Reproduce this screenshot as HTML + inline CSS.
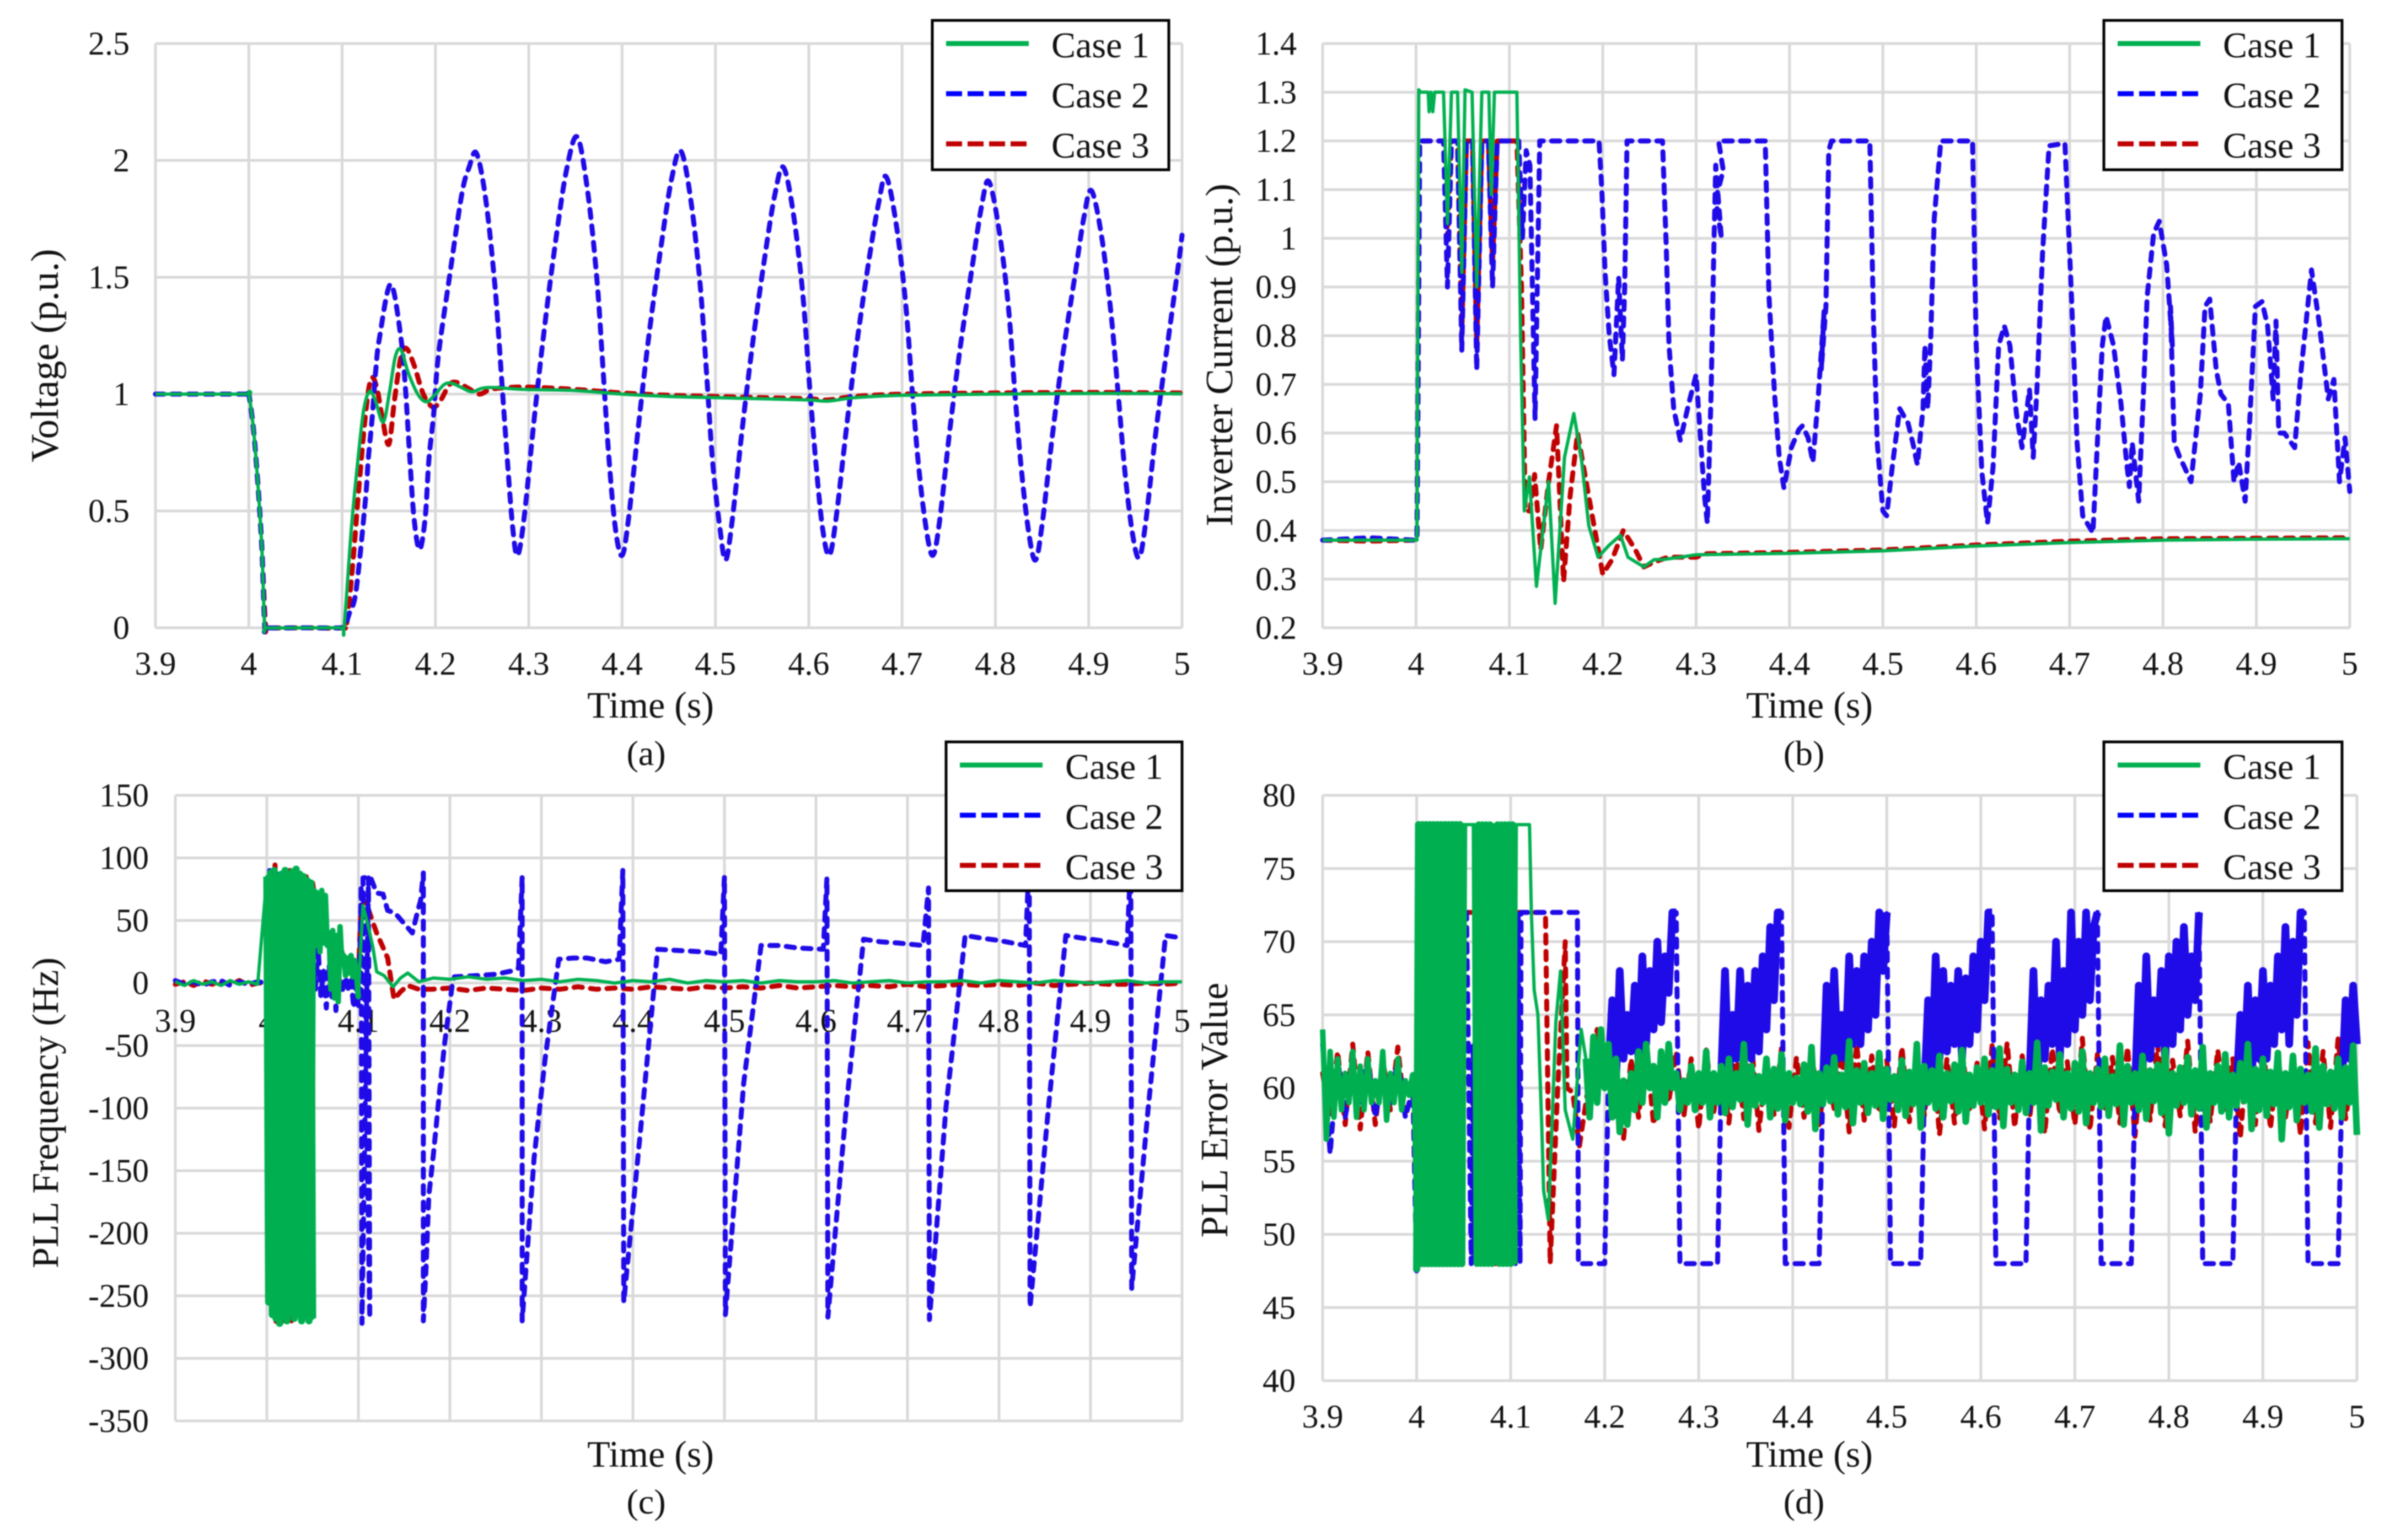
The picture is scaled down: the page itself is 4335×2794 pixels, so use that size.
<!DOCTYPE html>
<html lang="en">
<head>
<meta charset="utf-8">
<title>Voltage, inverter current, PLL frequency and PLL error for three cases</title>
<style>
html,body{margin:0;padding:0;background:#fff;}
#figure{display:block;width:4335px;height:2794px;filter:blur(1px);font-family:"Liberation Serif",serif;fill:#111;}
</style>
</head>
<body>
<svg id="figure" xmlns="http://www.w3.org/2000/svg" width="4335" height="2794" viewBox="0 0 4335 2794"></svg>
<script>
/* ---------- shared axis data ---------- */
const timeTicks = [3.9, 4, 4.1, 4.2, 4.3, 4.4, 4.5, 4.6, 4.7, 4.8, 4.9, 5];
const voltageTicks = [0, 0.5, 1, 1.5, 2, 2.5];
const currentTicks = [0.2, 0.3, 0.4, 0.5, 0.6, 0.7, 0.8, 0.9, 1, 1.1, 1.2, 1.3, 1.4];
const frequencyTicks = [-350, -300, -250, -200, -150, -100, -50, 0, 50, 100, 150];
const errorTicks = [40, 45, 50, 55, 60, 65, 70, 75, 80];
const caseNames = ["Case 1", "Case 2", "Case 3"];

/* sample clock for segments logged at a fixed time step */
function sampleTimes(start, step, count) {
  const out = [];
  for (let i = 0; i < count; i++) out.push(+(start + i * step).toFixed(4));
  return out;
}

/* ---------- (a) voltage ---------- */
const voltageCase1Times = [3.9,3.95,3.998,4,4.005,4.01,4.014,4.017,4.02,4.06,4.098,4.102,4.11,4.117,4.123,4.129,4.135,4.144,4.151,4.157,4.163,4.171,4.181,4.19,4.199,4.209,4.217,4.227,4.239,4.25,4.264,4.295,4.35,4.4,4.45,4.5,4.55,4.6,4.62,4.65,4.7,4.8,4.9,5];
const voltageCase1Values = [1,1,1,1,.85,.6,.34,.01,0,0,0,0,.43,.72,.93,1.01,.98,.88,1.015,1.16,1.19,1.09,1,.967,.995,1.04,1.047,1.03,1.01,1.025,1.028,1.02,1.015,1,.99,.985,.98,.975,.97,.985,.995,1,1.003,1.002];
const voltageCase3Times = [3.9,3.95,3.998,4,4.005,4.01,4.014,4.018,4.022,4.06,4.1,4.105,4.112,4.117,4.125,4.131,4.137,4.143,4.15,4.156,4.163,4.169,4.177,4.187,4.197,4.205,4.215,4.223,4.235,4.247,4.259,4.277,4.3,4.35,4.4,4.45,4.5,4.55,4.6,4.62,4.65,4.7,4.8,4.9,5];
const voltageCase3Values = [1,1,1,1,.85,.6,.34,.01,0,0,0,.02,.3,.55,.91,1.065,1.03,.9,.785,.97,1.16,1.195,1.125,1,.945,.97,1.04,1.05,1.025,1,1.02,1.028,1.03,1.02,1.005,.995,.99,.985,.98,.975,.99,1,1.005,1.007,1.005];
const voltageCase2Times = [3.9,3.95,3.998,4,4.005,4.01,4.014,4.017,4.02,4.06,4.098,4.103,4.108,4.115,4.125,4.128,4.132,4.136,4.14,4.152,4.163,4.168,4.172,4.177,4.183,4.189,4.193,4.198,4.203,
4.215,4.228,4.236,4.244,4.254,4.264,4.271,4.277,4.283,4.288,
4.295,4.306,4.317,4.33,4.341,4.352,4.363,4.373,4.38,4.386,4.393,4.4,
4.407,4.418,4.429,4.442,4.453,4.463,4.474,4.484,4.491,4.497,4.505,4.511,
4.518,4.529,4.54,4.553,4.564,4.573,4.584,4.594,4.601,4.608,4.615,4.622,
4.629,4.64,4.651,4.664,4.675,4.683,4.694,4.704,4.711,4.718,4.726,4.733,
4.74,4.751,4.762,4.775,4.785,4.793,4.804,4.814,4.821,4.828,4.836,4.843,
4.85,4.861,4.872,4.885,4.895,4.903,4.914,4.924,4.932,4.939,4.947,4.954,
4.961,4.972,4.983,4.996,5];
const voltageCase2Values = [1,1,1,1,.85,.6,.34,.01,0,0,0,.01,.065,.16,.55,.72,.89,1.1,1.24,1.47,1.24,1.015,.76,.47,.335,.47,.72,.91,1.16,
1.5,1.85,1.97,2.03,1.83,1.45,1.06,.72,.42,.31,
.47,.9,1.29,1.69,1.97,2.1,1.87,1.49,1.08,.72,.42,.31,
.47,.88,1.26,1.64,1.92,2.04,1.82,1.45,1.06,.71,.42,.29,
.46,.86,1.22,1.59,1.86,1.97,1.76,1.41,1.03,.69,.42,.31,
.46,.84,1.2,1.56,1.82,1.93,1.72,1.38,1.01,.68,.42,.31,
.45,.84,1.19,1.54,1.8,1.91,1.7,1.37,1,.67,.4,.29,
.44,.82,1.16,1.5,1.76,1.87,1.67,1.34,.98,.66,.4,.3,
.45,.84,1.17,1.55,1.68];

/* ---------- (b) inverter current ---------- */
const currentCase1Times = [3.9,3.95,3.999,4.001,4.003,4.005,4.013,4.014,4.016,4.018,4.02,4.0295,4.0337,4.038,4.0445,4.049,4.0525,4.06,4.065,4.0705,4.078,4.0807,4.084,4.108,4.112,4.116,4.1215,4.129,4.142,4.149,4.159,4.169,4.177,4.185,4.195,4.207,4.219,4.227,4.244,4.255,4.264,4.283,4.3,4.4,4.5,4.6,4.7,4.8,4.9,5];
const currentCase1Values = [.38,.38,.38,.38,1.305,1.3,1.3,1.26,1.3,1.26,1.3,1.3,1.03,1.3,1.3,.93,1.305,1.3,.9,1.3,1.3,1.09,1.3,1.3,.8,.44,.51,.285,.5,.25,.55,.64,.55,.41,.345,.37,.39,.345,.325,.34,.34,.345,.35,.353,.358,.368,.375,.38,.382,.383];
const currentCase3Times = [3.9,3.95,3.999,4.001,4.004,4.0295,4.0337,4.038,4.0445,4.049,4.054,4.0605,4.065,4.0705,4.0775,4.082,4.087,4.108,4.113,4.117,4.122,4.127,4.1335,4.142,4.1505,4.158,4.165,4.173,4.185,4.2,4.21,4.222,4.235,4.244,4.255,4.27,4.3,4.31,4.4,4.5,4.6,4.7,4.8,4.9,5];
const currentCase3Values = [.38,.378,.38,.38,1.2,1.2,1,1.2,1.2,.8,1.2,1.2,.78,1.2,1.2,.95,1.2,1.2,.9,.44,.44,.515,.36,.5,.615,.295,.47,.6,.47,.31,.34,.4,.36,.325,.335,.345,.345,.352,.355,.36,.37,.378,.383,.384,.385];
const currentCase2Times = [3.9,3.95,3.999,4.001,4.004,4.0295,4.0337,4.038,4.0445,4.049,4.054,4.0605,4.065,4.0705,4.0775,4.082,4.087,4.095,4.11,4.114,4.118,4.122,4.1275,4.1325,4.196,4.199,4.2025,4.207,4.212,4.217,4.221,4.2235,4.226,4.264,4.268,4.271,4.276,4.283,4.292,4.3,4.305,4.309,4.312,4.316,4.319,4.321,4.327,4.321,4.329,4.324,4.374,4.378,4.384,4.389,4.394,4.402,4.41,4.414,4.42,4.425,4.431,4.437,4.434,4.439,4.442,4.445,4.486,4.49,4.494,4.5,4.504,4.51,4.518,4.527,4.532,4.537,4.543,4.545,4.548,4.551,4.555,4.562,4.596,4.6,4.606,4.612,4.618,4.624,4.63,4.636,4.643,4.649,4.657,4.661,4.665,4.671,4.678,4.695,4.702,4.708,4.714,4.725,4.731,4.735,4.739,4.747,4.755,4.761,4.764,4.767,4.774,4.779,4.783,4.79,4.796,4.804,4.81,4.808,4.812,4.818,4.823,4.83,4.84,4.845,4.85,4.857,4.862,4.87,4.876,4.881,4.888,4.893,4.899,4.906,4.912,4.918,4.921,4.924,4.93,4.941,4.948,4.959,4.967,4.977,4.983,4.989,4.995,5];
const currentCase2Values = [.38,.385,.38,.38,1.2,1.2,.9,1.2,1.2,.77,1.2,1.2,.73,1.2,1.2,.9,1.2,1.2,1.2,1,1.18,1.15,.63,1.2,1.2,1.1,.93,.8,.72,.92,.75,.9,1.2,1.2,.98,.78,.65,.585,.66,.72,.58,.47,.415,.68,.98,1.15,1,1.08,1.14,1.2,1.2,.88,.68,.55,.487,.57,.607,.615,.59,.54,.68,.85,.73,.86,1.18,1.2,1.2,.83,.58,.44,.43,.53,.65,.62,.58,.535,.65,.78,.65,.78,1.04,1.2,1.2,.78,.52,.415,.53,.78,.82,.78,.64,.57,.69,.55,.69,.97,1.19,1.195,.88,.58,.43,.395,.63,.78,.84,.78,.66,.54,.49,.58,.46,.68,.88,1.01,1.035,.945,.78,.86,.58,.55,.53,.5,.68,.86,.875,.73,.68,.66,.5,.54,.46,.63,.86,.87,.82,.67,.83,.6,.6,.57,.73,.935,.83,.67,.71,.5,.59,.48];

/* ---------- (c) PLL frequency ---------- */
const frequencyPreFaultTimes = sampleTimes(3.9, .01, 10);
const frequencyCase1PreFault = [1,-2,2,-1,1,-2,2,-1,1,-1];
const frequencyCase1BlockTimes = sampleTimes(4.0, .002, 26);
const frequencyCase1Block = [85,-255,88,-265,90,-268,84,-272,87,-266,90,-270,86,-262,89,-268,91,-264,87,-270,85,-266,82,-270,80,-268];
const frequencyCase1RaggedTimes = sampleTimes(4.052, .002, 25);
const frequencyCase1Ragged = [75,30,72,25,74,32,70,30,40,-5,42,-12,38,-15,45,15,22,6,20,8,22,5,18,7,-12];
const frequencyCase1RecoveryTimes = [4.102,4.105,4.11,4.116,4.12,4.128,4.138,4.146,4.154,4.166,4.182];
const frequencyCase1Recovery = [20,62,48,28,9,6,-3,4,8,1,4];
const frequencyCase1TailTimes = sampleTimes(4.2, .02, 41);
const frequencyCase1Tail = [3,5,3,4,2,3,1,3,2,0,2,1,3,0,2,1,2,0,2,1,1,2,0,1,2,0,1,1,2,0,2,1,0,2,1,0,1,2,0,1,1];
const frequencyCase3PreFault = [-1,1,-2,2,-1,1,-1,2,-2,0];
const frequencyCase3FaultTimes = [4.0,4.002,4.004,4.009,4.01,4.016,4.018,4.025,4.027,4.035,4.037,4.043,4.045,4.05,4.052,4.056,4.06,4.063,4.065,4.07,4.075,4.079,4.085,4.095,4.1,4.103,4.108,4.12,4.132,4.139,4.146,4.154,4.166];
const frequencyCase3Fault = [0,85,-255,97,-272,85,-272,90,-270,88,-268,85,-268,80,70,30,65,62,35,37,20,35,15,18,5,62,65,40,20,-13,-7,-2,-5];
const frequencyCase3TailTimes = sampleTimes(4.18, .02, 42);
const frequencyCase3Tail = [-5,-4,-6,-4,-5,-6,-4,-5,-3,-5,-4,-5,-3,-4,-5,-3,-4,-3,-4,-2,-4,-3,-2,-3,-2,-3,-1,-3,-2,-1,-2,-1,-2,0,-2,-1,0,-1,-1,0,-1,0];
const frequencyCase2PreFault = [2,-1,1,-2,1,2,-2,1,-1,1];
const frequencyCase2Times = [4.0,4.001,4.003,4.008,4.012,4.02,4.03,4.04,4.049,4.05,4.053,4.056,4.059,4.062,4.065,4.068,4.071,4.074,4.0755,4.078,4.082,4.086,4.089,4.092,4.095,4.097,4.1,4.102,4.103,4.104,4.111,4.1125,4.105,4.113,4.12,4.127,4.132,4.14,4.159,4.165,4.168,4.171,4.171,4.174,4.177,4.182,4.188,4.194,4.2025,4.205,4.23,4.25,4.27,4.275,4.279,4.279,4.292,4.304,4.319,4.335,4.35,4.37,4.385,4.389,4.39,4.408,4.427,4.45,4.475,4.496,4.5,4.501,4.521,4.54,4.56,4.58,4.608,4.612,4.613,4.633,4.652,4.67,4.69,4.717,4.723,4.724,4.742,4.763,4.78,4.8,4.829,4.833,4.834,4.854,4.873,4.89,4.91,4.94,4.944,4.945,4.963,4.982,5];
const frequencyCase2Values = [0,-250,90,-262,90,-268,88,-265,60,30,-5,28,-10,10,-20,15,-12,5,-22,8,-8,5,-5,2,-20,5,-18,30,78,-272,84,-268,84,85,72,71,58,56,40,58,66,88,-270,-227,-170,-137,-92,-50,-2,5,6,7,10,12,85,-270,-140,-61,19,20,20,17,19,90,-255,-120,27,26,25,23,85,-265,-80,30,30,28,27,84,-267,-100,35,33,32,30,76,-269,-100,38,36,34,30,100,-259,-100,38,36,34,30,100,-244,-100,38,36];

/* ---------- (d) PLL error value ---------- */
const errorCase1PreFaultTimes = sampleTimes(3.9, .004, 25);
const errorCase1PreFault = [64,56.5,62.5,58,62,58.5,61,59,62.5,58,61.5,58.5,62,59,60.5,59,62.5,57.8,61,59,62,58.5,60.5,59.5,61];
const errorCase1BlockATimes = sampleTimes(4.0, .002, 26);
const errorCase1BlockA = [47.5,78,48,78,48,78,48,78,48,78,48,78,48,78,48,78,48,78,48,78,48,78,48,78,48,78];
const errorCase1BlockBTimes = sampleTimes(4.062, .002, 11);
const errorCase1BlockB = [78,48,78,48,78,48,78,48,78,48,78];
const errorCase1BlockCTimes = sampleTimes(4.084, .002, 11);
const errorCase1BlockC = [48,78,48,78,48,78,48,78,48,78,48];
const errorCase1RecoveryTimes = [4.106,4.12,4.122,4.125,4.129,4.133,4.135,4.14,4.144,4.148,4.153,4.158,4.166,4.175];
const errorCase1Recovery = [78,78,72,66.7,65,57.5,53,51,57.5,64.5,68,58.5,56.5,64];
const errorCase1Band = [
62,58,63.5,59,64,60,63,58,62,57,60.5,57.5,61,58.5,62.5,59,63,60,61.5,58,62.5,59,63,60,61,58.5,60.5,59,
61.5,58.5,61,59,62.5,58,61,59,61.5,58.3,62,58.7,61,59.2,63,57.5,61.5,58.8,60.8,59,62,58,61.3,58.6,
62.3,57.8,61,59,60.7,58.9,61.6,58.4,62.8,57.2,61,58.9,61.4,59.1,62.1,58.2,60.9,58.7,63.2,57.6,61.2,59,
61.7,58.3,61,58.8,62.4,57.9,61.3,59.2,60.8,58.5,61.9,58.1,61.1,58.9,63,57.3,61.5,59,61.2,58.6,62.2,58,
61,59.1,61.6,58.4,62.6,57.7,60.9,58.8,61.4,59,62,58.2,61.2,58.7,62.7,57.4,61.3,59,60.9,58.5,61.8,58.3,
61,59,63.1,57.1,61.4,58.8,61.1,59.2,62.3,58,61,58.6,61.7,58.4,62.5,57.6,61,59,61.3,58.7,62,58.1,
60.8,58.9,62.9,57.5,61.5,59,61,58.5,62.2,57.9,61.2,59.1,61.6,58.3,62.6,56.9,61,58.8,61.4,59,62.1,58.2,
61.2,58.6,62.8,57.3,61,59,61.5,58.4,62.3,58,60.9,58.8,61.7,59.1,63,57.2,61.3,58.5,62,58.1,61.1,58.9,
62.4,56.5,61,58.7,62.2,57.8,61.3,59,60.9,58.4,62.7,57.3,61.5,58.9,61.1,58.6,62,58,61.4,59,62.9,56.8
];
const errorCase1BandTimes = sampleTimes(4.18, .004, errorCase1Band.length);
const errorCase3PreFaultTimes = sampleTimes(3.9, .008, 13);
const errorCase3PreFault = [61,58,62.5,57.5,63,57.2,62.5,57.5,62,58.5,62.8,58,60];
const errorCase3FaultTimes = [4.0,4.001,4.05,4.07,4.072,4.074,4.082,4.0825,4.09,4.092,4.096,4.1,4.137,4.142,4.15,4.158,4.16,4.166,4.173,4.18,4.192,4.205,4.213];
const errorCase3Fault = [48,72,72,72,48,72,72,48,48,72,48,72,72,48,60,70,60,59.7,56,59,64,60,58];
const errorCase3Band = [
56.5,62,58,63,57.5,61,59,62.5,58,62,57.2,62.6,58.4,61.8,57.6,62.4,57.9,63.2,57.1,61.6,
58.2,62.7,57.3,62.1,58,62.9,57.5,61.4,58.6,62.3,57,63,57.8,62.2,58.3,61.9,57.4,62.8,57.7,62.5,
58.1,63.3,56.8,62,57.6,62.6,58.5,61.7,57.2,62.9,57.9,63.1,57.3,62.2,58,62.4,56.9,62.7,58.2,61.8,
57.5,63.4,57.1,62.3,58.4,62.1,57.6,62.8,56.7,62.5,57.8,63,57.4,61.9,58.1,63.2,57,62.4,57.7,62.6,
58.3,62,56.6,62.9,57.5,63.3,57.2,62.2,58,61.7,56.8,63.1,57.6,62.5,57.3,63.4,57.9,61.5
];
const errorCase3BandTimes = sampleTimes(4.22, .008, errorCase3Band.length);
const errorCase2PreFaultTimes = sampleTimes(3.9, .008, 13);
const errorCase2PreFault = [63,55.5,62,58,61,59,62,58,61,59,62,58,60];
const errorCase2FaultTimes = [4.0,4.001,4.049,4.05,4.053,4.058,4.06,4.0615,4.063,4.065,4.067,4.075,4.082,4.087,4.09,4.095,4.1,4.105,4.108,4.11,4.111,4.171];
const errorCase2Fault = [47.5,72,72,72,72,48,63,48,63,48,72,48,72,48,72,48,72,48,72,48,72,72];
const errorCase2Cycles = [
48,48,48,48,48,48,48,48,
61,66,60.5,68,62,65,62.5,67,62,69,63,68,64,70,64.5,69,66.5,72,72,
48,48,48,48,48,48,48,48,48,48,48,
61,68,60.5,65,62,68,63,67,62,68,62.5,69,64,71,66,72,72,
48,48,48,48,48,48,48,48,48,48,
60,67,61,68,62,65,62,69,63,68,63,69,64,70,65,72,68,72,
48,48,48,48,48,48,48,48,48,
60,66,61,69,62,68,62.5,67,63,68,62,67.5,63,69,64,70,66,72,72,
48,48,48,48,48,48,48,48,48,
61,68,60,66,62,67,63,70,62,68,63,72,64,70,65,72,66,71,72,
48,48,48,48,48,48,48,48,48,
60,67,61,69,62,66,63,68,62,69,63,70,64,71,65,69,66,72,
48,48,48,48,48,48,48,48,48,
60,65,61,67,60.5,66,62,68,62,67,63,69,64,71,63,70,65,72,72,
48,48,48,48,48,48,48,48,48,
60,66,62,67,63
];
const errorCase2CycleTimes = sampleTimes(4.172, .004, errorCase2Cycles.length);

/* ---------- assembling full series from the logged segments ---------- */
const frequencyCase1AllTimes = [...frequencyPreFaultTimes, ...frequencyCase1BlockTimes, ...frequencyCase1RaggedTimes, ...frequencyCase1RecoveryTimes, ...frequencyCase1TailTimes];
const frequencyCase1AllValues = [...frequencyCase1PreFault, ...frequencyCase1Block, ...frequencyCase1Ragged, ...frequencyCase1Recovery, ...frequencyCase1Tail];
const frequencyCase3AllTimes = [...frequencyPreFaultTimes, ...frequencyCase3FaultTimes, ...frequencyCase3TailTimes];
const frequencyCase3AllValues = [...frequencyCase3PreFault, ...frequencyCase3Fault, ...frequencyCase3Tail];
const frequencyCase2AllTimes = [...frequencyPreFaultTimes, ...frequencyCase2Times];
const frequencyCase2AllValues = [...frequencyCase2PreFault, ...frequencyCase2Values];
const errorCase1AllTimes = [...errorCase1PreFaultTimes, ...errorCase1BlockATimes, ...errorCase1BlockBTimes, ...errorCase1BlockCTimes, ...errorCase1RecoveryTimes, ...errorCase1BandTimes];
const errorCase1AllValues = [...errorCase1PreFault, ...errorCase1BlockA, ...errorCase1BlockB, ...errorCase1BlockC, ...errorCase1Recovery, ...errorCase1Band];
const errorCase3AllTimes = [...errorCase3PreFaultTimes, ...errorCase3FaultTimes, ...errorCase3BandTimes];
const errorCase3AllValues = [...errorCase3PreFault, ...errorCase3Fault, ...errorCase3Band];
const errorCase2AllTimes = [...errorCase2PreFaultTimes, ...errorCase2FaultTimes, ...errorCase2CycleTimes];
const errorCase2AllValues = [...errorCase2PreFault, ...errorCase2Fault, ...errorCase2Cycles];

/* ---------- panels (layout only) ---------- */
const panels = [
  {id:"voltage", left:282, right:2144, top:79, bottom:1139, ticks:voltageTicks, xLabelBase:1224,
   yLabelX:235, title:"Voltage (p.u.)", titleSize:71, titleX:105, titleY:645, timeX:1180, timeY:1302, caption:"(a)", capX:1172, capY:1388,
   legend:{x:1691,y:37,w:429,h:271}, smooth:true,
   c1:[voltageCase1Times,voltageCase1Values], c2:[voltageCase2Times,voltageCase2Values], c3:[voltageCase3Times,voltageCase3Values],
   solidCase1:[], solidCase2:[]},
  {id:"current", left:2399, right:4262, top:79, bottom:1139, ticks:currentTicks, xLabelBase:1224,
   yLabelX:2352, title:"Inverter Current (p.u.)", titleSize:70, titleX:2235, titleY:644, timeX:3282, timeY:1302, caption:"(b)", capX:3272, capY:1388,
   legend:{x:3816,y:37,w:432,h:271}, smooth:false,
   c1:[currentCase1Times,currentCase1Values], c2:[currentCase2Times,currentCase2Values], c3:[currentCase3Times,currentCase3Values],
   solidCase1:[], solidCase2:[]},
  {id:"frequency", left:318, right:2144, top:1443, bottom:2578, ticks:frequencyTicks, xLabelBase:1872,
   yLabelX:270, title:"PLL Frequency (Hz)", titleSize:68, titleX:105, titleY:2019, timeX:1180, timeY:2661, caption:"(c)", capX:1172, capY:2746,
   legend:{x:1716,y:1346,w:428,h:270}, smooth:false,
   c1:[frequencyCase1AllTimes,frequencyCase1AllValues], c2:[frequencyCase2AllTimes,frequencyCase2AllValues], c3:[frequencyCase3AllTimes,frequencyCase3AllValues],
   solidCase1:[[frequencyCase1BlockTimes,frequencyCase1Block,13],[frequencyCase1RaggedTimes,frequencyCase1Ragged,10]], solidCase2:[]},
  {id:"error", left:2399, right:4275, top:1443, bottom:2505, ticks:errorTicks, xLabelBase:2590,
   yLabelX:2350, title:"PLL Error Value", titleSize:70, titleX:2226, titleY:2014, timeX:3282, timeY:2661, caption:"(d)", capX:3272, capY:2746,
   legend:{x:3816,y:1346,w:432,h:270}, smooth:false,
   c1:[errorCase1AllTimes,errorCase1AllValues], c2:[errorCase2AllTimes,errorCase2AllValues], c3:[errorCase3AllTimes,errorCase3AllValues],
   solidCase1:[[errorCase1PreFaultTimes,errorCase1PreFault,10],[errorCase1BlockATimes,errorCase1BlockA,13],[errorCase1BlockBTimes,errorCase1BlockB,12],[errorCase1BlockCTimes,errorCase1BlockC,12],[errorCase1BandTimes,errorCase1Band,12]],
   solidCase2:[[errorCase2CycleTimes,errorCase2Cycles,14]]}
];

const svgNS = "http://www.w3.org/2000/svg";
const figure = document.getElementById("figure");

function xScale(panel, t) {
  const first = timeTicks[0], last = timeTicks[timeTicks.length - 1];
  return panel.left + (t - first) / (last - first) * (panel.right - panel.left);
}
function yScale(panel, v) {
  const lo = panel.ticks[0], hi = panel.ticks[panel.ticks.length - 1];
  return panel.bottom - (v - lo) / (hi - lo) * (panel.bottom - panel.top);
}
function make(tag, parent) {
  const el = document.createElementNS(svgNS, tag);
  parent.appendChild(el);
  return el;
}
function setAll(el, props) {
  for (const k in props) el.setAttribute(k, props[k]);
}
function linePath(pts) {
  return "M" + pts.map(p => p[0].toFixed(1) + " " + p[1].toFixed(1)).join("L");
}
function smoothPath(pts) {
  let d = "M" + pts[0][0].toFixed(1) + " " + pts[0][1].toFixed(1);
  for (let i = 0; i < pts.length - 1; i++) {
    const p0 = pts[Math.max(i - 1, 0)], p1 = pts[i], p2 = pts[i + 1], p3 = pts[Math.min(i + 2, pts.length - 1)];
    const c1x = p1[0] + (p2[0] - p0[0]) / 6, c1y = p1[1] + (p2[1] - p0[1]) / 6;
    const c2x = p2[0] - (p3[0] - p1[0]) / 6, c2y = p2[1] - (p3[1] - p1[1]) / 6;
    d += "C" + c1x.toFixed(1) + " " + c1y.toFixed(1) + " " + c2x.toFixed(1) + " " + c2y.toFixed(1) + " " + p2[0].toFixed(1) + " " + p2[1].toFixed(1);
  }
  return d;
}

const seriesStyles = {
  c1: {stroke:"#00b050", width:6, dash:""},
  c2: {stroke:"#1f0ae8", width:9, dash:"15 15"},
  c3: {stroke:"#c00000", width:9, dash:"15 15"}
};

function drawSeries(panel, group, key, label) {
  const times = panel[key][0], values = panel[key][1], style = seriesStyles[key];
  const pts = times.map((t, i) => [xScale(panel, t), yScale(panel, values[i])]);
  const path = make("path", group);
  setAll(path, {d: panel.smooth ? smoothPath(pts) : linePath(pts), fill:"none", stroke:style.stroke, "stroke-width":style.width, "stroke-linejoin":"round"});
  if (style.dash) {
    path.setAttribute("stroke-dasharray", style.dash);
    path.setAttribute("stroke-linecap", "round");
  }
  
  
}

/* Dense stretches merge into a solid mass in the figure: redraw them from the same
   arrays with a heavier solid stroke, skipping runs sitting on the floor value. */
function drawDense(panel, group, pass, color, label, floor) {
  const times = pass[0], values = pass[1], width = pass[2];
  let run = [];
  const flush = () => {
    if (run.length > 1) {
      const path = make("path", group);
      setAll(path, {d:linePath(run), fill:"none", stroke:color, "stroke-width":width, "stroke-linejoin":"round"});
      
      
    }
    run = [];
  };
  times.forEach((t, i) => {
    if (floor !== null && values[i] <= floor) { flush(); return; }
    run.push([xScale(panel, t), yScale(panel, values[i])]);
  });
  flush();
}

panels.forEach(panel => {
  const g = make("g", figure);
  
  

  /* gridlines */
  const grid = make("g", g);
  
  
  setAll(grid, {stroke:"#d9d9d9", "stroke-width":5});
  panel.ticks.forEach(v => {
    const line = make("line", grid);
    setAll(line, {x1:panel.left, x2:panel.right, y1:yScale(panel, v), y2:yScale(panel, v)});
    
    
  });
  timeTicks.forEach(t => {
    const line = make("line", grid);
    setAll(line, {x1:xScale(panel, t), x2:xScale(panel, t), y1:panel.top, y2:panel.bottom});
    
    
  });

  /* tick labels */
  panel.ticks.forEach(v => {
    const txt = make("text", g);
    setAll(txt, {x:panel.yLabelX, y:yScale(panel, v) + 20, "text-anchor":"end", "font-size":60});
    txt.textContent = String(v);
    
    
  });
  timeTicks.forEach(t => {
    const txt = make("text", g);
    setAll(txt, {x:xScale(panel, t), y:panel.xLabelBase, "text-anchor":"middle", "font-size":60});
    txt.textContent = String(t);
    
    
  });

  /* axis titles and caption */
  const yTitle = make("text", g);
  setAll(yTitle, {x:panel.titleX, y:panel.titleY, "text-anchor":"middle", "font-size":panel.titleSize, transform:"rotate(-90 " + panel.titleX + " " + panel.titleY + ")"});
  yTitle.textContent = panel.title;
  
  

  const xTitle = make("text", g);
  setAll(xTitle, {x:panel.timeX, y:panel.timeY, "text-anchor":"middle", "font-size":68});
  xTitle.textContent = "Time (s)";
  
  

  const caption = make("text", g);
  setAll(caption, {x:panel.capX, y:panel.capY, "text-anchor":"middle", "font-size":64});
  caption.textContent = panel.caption;
  
  

  /* series: case 3, case 2, then case 1 on top */
  drawSeries(panel, g, "c3", "case-3");
  drawSeries(panel, g, "c2", "case-2");
  panel.solidCase2.forEach(pass => drawDense(panel, g, pass, seriesStyles.c2.stroke, "case-2", 48));
  drawSeries(panel, g, "c1", "case-1");
  panel.solidCase1.forEach(pass => drawDense(panel, g, pass, seriesStyles.c1.stroke, "case-1", null));

  /* legend */
  const lg = make("g", g);
  
  
  const box = make("rect", lg);
  setAll(box, {x:panel.legend.x, y:panel.legend.y, width:panel.legend.w, height:panel.legend.h, fill:"#fff", stroke:"#000", "stroke-width":5});
  
  
  const keys = ["c1", "c2", "c3"];
  const legendColors = {c1:"#00b050", c2:"#0000ff", c3:"#c00000"};
  keys.forEach((key, i) => {
    const y = panel.legend.y + 42 + i * 91;
    const sample = make("line", lg);
    setAll(sample, {x1:panel.legend.x + 25, x2:panel.legend.x + 175, y1:y, y2:y, stroke:legendColors[key], "stroke-width":9});
    if (key !== "c1") sample.setAttribute("stroke-dasharray", "29 10");
    
    
    const label = make("text", lg);
    setAll(label, {x:panel.legend.x + 216, y:y + 25, "font-size":66});
    label.textContent = caseNames[i];
    
    
  });
});
</script>
</body>
</html>
